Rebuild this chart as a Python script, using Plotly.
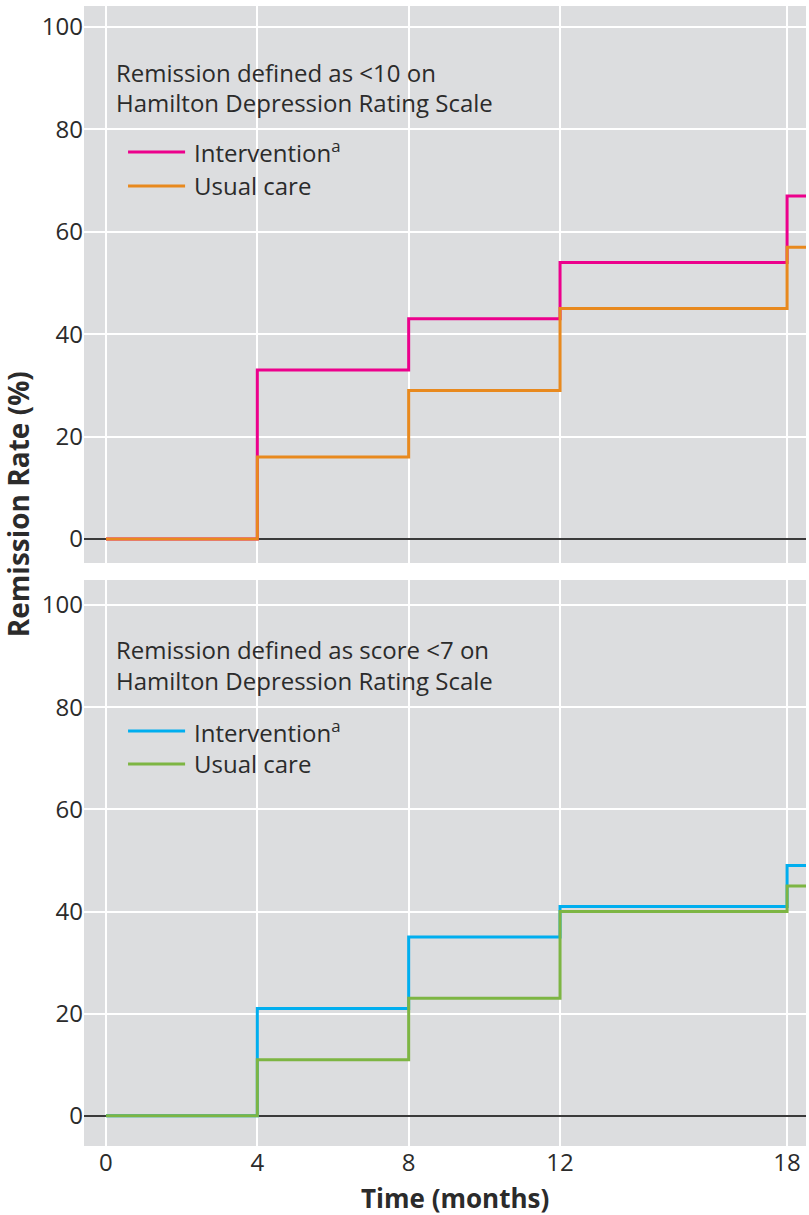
import plotly.graph_objects as go

# ---- data ----
months = [0, 4, 8, 12, 18]
tick_vals = [0, 4, 8, 12, 18]
tick_text = ["0", "4", "8", "12", "18"]

hdrs10_intervention = [0, 33, 43, 54, 67]
hdrs10_usual = [0, 16, 29, 45, 57]

hdrs7_intervention = [0, 21, 35, 41, 49]
hdrs7_usual = [0, 11, 23, 40, 45]

# ---- style ----
X_RANGE = [-0.58, 18.5]
BG = "#DCDDDF"
FONT = "Open Sans"
TXT = "#2B2B2B"
PINK = "#EC008C"
ORANGE = "#E8891E"
BLUE = "#00AEEF"
GREEN = "#7DB543"

def ext(xs, ys):
    # carry the last value to the right edge of the plot
    return xs + [X_RANGE[1] + 0.2], ys + [ys[-1]]

fig = go.Figure()

panels = [
    ("x", "y", hdrs10_intervention, hdrs10_usual, PINK, ORANGE),
    ("x2", "y2", hdrs7_intervention, hdrs7_usual, BLUE, GREEN),
]
for xa, ya, inter, usual, c1, c2 in panels:
    for vals, col in [(inter, c1), (usual, c2)]:
        xs, ys = ext(months, vals)
        fig.add_trace(go.Scatter(x=xs, y=ys, mode="lines", line_shape="hv",
                                 line=dict(color=col, width=3),
                                 xaxis=xa, yaxis=ya, showlegend=False,
                                 hoverinfo="skip"))

axis_common = dict(showgrid=True, gridcolor="white", gridwidth=2,
                   showline=False, ticks="",
                   tickfont=dict(family=FONT, size=24, color=TXT))

fig.update_layout(
    width=809, height=1215,
    margin=dict(l=84, r=3, t=6, b=69),
    paper_bgcolor="white", plot_bgcolor=BG,
    showlegend=False,
    font=dict(family=FONT, color=TXT),
    xaxis=dict(domain=[0, 1], anchor="y", range=X_RANGE, tickvals=tick_vals,
               showticklabels=False, zeroline=False, **axis_common),
    yaxis=dict(domain=[0.5114, 1], anchor="x", range=[-4.7, 104.1],
               tickvals=[0, 20, 40, 60, 80, 100], zeroline=True,
               zerolinecolor="#3A3A3A", zerolinewidth=2, **axis_common),
    xaxis2=dict(domain=[0, 1], anchor="y2", range=X_RANGE, tickvals=tick_vals,
                ticktext=tick_text, showticklabels=True, zeroline=False,
                **axis_common),
    yaxis2=dict(domain=[0, 0.4965], anchor="x2", range=[-5.9, 104.9],
                tickvals=[0, 20, 40, 60, 80, 100], zeroline=True,
                zerolinecolor="#3A3A3A", zerolinewidth=2, **axis_common),
)

ann_font = dict(family=FONT, size=24, color=TXT)

texts = [
    ("x domain", "y domain", ["Remission defined as <10 on", "Hamilton Depression Rating Scale"],
     [0.880, 0.826], [("Intervention<sup>a</sup>", PINK, 0.738), ("Usual care", ORANGE, 0.677)]),
    ("x2 domain", "y2 domain", ["Remission defined as score <7 on", "Hamilton Depression Rating Scale"],
     [0.878, 0.823], [("Intervention<sup>a</sup>", BLUE, 0.733), ("Usual care", GREEN, 0.675)]),
]
for xr, yr, lines, ys, leg in texts:
    for t, yy in zip(lines, ys):
        fig.add_annotation(xref=xr, yref=yr, x=0.0416, y=yy, text=t, showarrow=False,
                           xanchor="left", yanchor="middle", font=ann_font)
    for name, col, yy in leg:
        fig.add_shape(type="line", xref=xr, yref=yr, x0=0.061, x1=0.140, y0=yy, y1=yy,
                      line=dict(color=col, width=3))
        fig.add_annotation(xref=xr, yref=yr, x=0.1496, y=yy, text=name, showarrow=False,
                           xanchor="left", yanchor="middle", font=ann_font)

fig.add_annotation(xref="paper", yref="paper", x=-0.0914, y=0.563,
                   text="<b>Remission Rate (%)</b>", textangle=-90, showarrow=False,
                   xanchor="center", yanchor="middle",
                   font=dict(family=FONT, size=28, color=TXT))
fig.add_annotation(xref="paper", yref="paper", x=0.514, y=-0.0456,
                   text="<b>Time (months)</b>", showarrow=False,
                   xanchor="center", yanchor="middle",
                   font=dict(family=FONT, size=26, color=TXT))

fig.write_html("out.html", config={"displayModeBar": False})

# remove the browser's default page margin so the figure sits at the top-left
with open("out.html", encoding="utf-8") as f:
    html = f.read()
html = html.replace("<body>", '<body style="margin:0;padding:0;">', 1)
with open("out.html", "w", encoding="utf-8") as f:
    f.write(html)
